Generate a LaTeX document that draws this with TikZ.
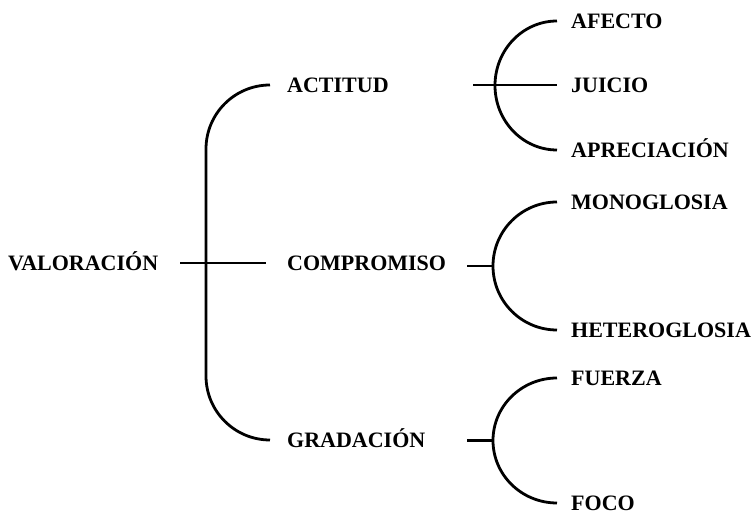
\documentclass[tikz,border=0pt]{standalone}
\usepackage{fontspec}
\setmainfont{Liberation Serif}

\tikzset{
  term/.style={anchor=west, inner sep=0pt, text height=14.6pt, text depth=0pt,
    font=\fontsize{22}{26}\selectfont\bfseries},
  branch/.style={line width=2.8pt, rounded corners=#1},
  stem/.style={line width=2.8pt},
}

\begin{document}
\begin{tikzpicture}[x=1pt,y=1pt]
\useasboundingbox (0,0) rectangle (756,516);

\node[term] (V) at (8,253) {VALORACIÓN};
\node[term] (A) at (287,431) {ACTITUD};
\node[term] (C) at (287,253) {COMPROMISO};
\node[term] (G) at (287,76) {GRADACIÓN};
\node[term] (Af) at (571,495) {AFECTO};
\node[term] (J) at (571,431) {JUICIO};
\node[term] (Ap) at (571,366) {APRECIACIÓN};
\node[term] (M) at (571,314) {MONOGLOSIA};
\node[term] (H) at (571,186) {HETEROGLOSIA};
\node[term] (F) at (571,138) {FUERZA};
\node[term] (Fo) at (571,13) {FOCO};

\coordinate (Vout) at (180,253);
\coordinate (Vfork) at (206,253);
\coordinate (Aout) at (473,431);
\coordinate (Cout) at (467,250);
\coordinate (Cfork) at (493,250);
\coordinate (Gout) at (467,75.5);
\coordinate (Gfork) at (493,75.5);

% valoracion
\draw[branch=64pt] ([xshift=-17pt]A.west) -| (Vfork) |- ([xshift=-17pt]G.west);
\draw[stem] (Vout) -- ([xshift=-21pt]C.west);

% actitud
\draw[stem] ([xshift=-14pt]Af.west) arc[start angle=90, end angle=270, x radius=62pt, y radius=64.5pt];
\draw[stem] (Aout) -- ([xshift=-14pt]J.west);

% compromiso
\draw[stem] ([xshift=-14pt]M.west) arc[start angle=90, end angle=270, x radius=64pt, y radius=64pt];
\draw[stem] (Cout) -- (Cfork);

% gradacion
\draw[stem] ([xshift=-14pt]F.west) arc[start angle=90, end angle=270, x radius=64pt, y radius=62.5pt];
\draw[stem] (Gout) -- (Gfork);
\end{tikzpicture}
\end{document}
